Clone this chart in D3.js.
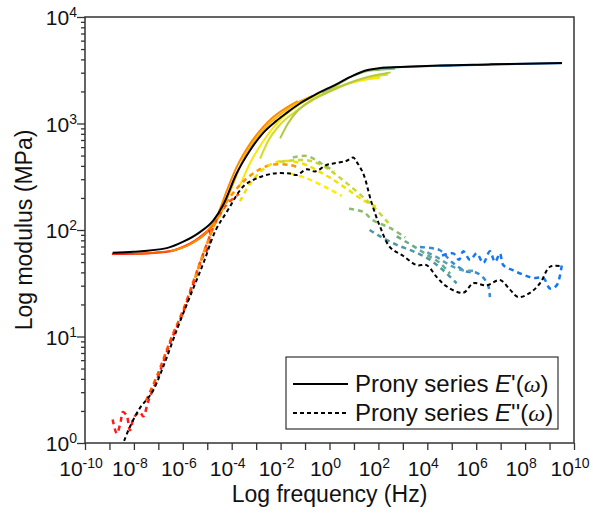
<!DOCTYPE html>
<html>
<head>
<meta charset="utf-8">
<script src="https://d3js.org/d3.v7.min.js"></script>
<style>
  body { margin: 0; background: #fff; }
  text { font-family: "Liberation Sans", Arial, sans-serif; fill: #111; }
  .frame { fill: none; stroke: #333; stroke-width: 1.5px; }
  .axis path { display: none; }
  .axis line { stroke: #333; stroke-width: 1.3px; }
</style>
</head>
<body>
<svg id="chart" width="593" height="513"></svg>
<script>
// values are [log10 frequency, log10 modulus]
const pronyStorage = [[-8.87,1.787],[-8.02,1.796],[-6.66,1.83],[-5.98,1.89],[-5.30,1.98],[-4.75,2.09],[-4.34,2.24],[-3.80,2.53],[-3.3,2.73],[-2.72,2.91],[-2.2,3.02],[-1.75,3.10],[-1.2,3.19],[-0.67,3.26],[0.29,3.37],[0.96,3.45],[1.52,3.50],[2.07,3.52],[2.88,3.53],[4.5,3.545],[6.5,3.555],[8,3.562],[9.51,3.568]];
const pronyLoss = [[-8.40,0.02],[-8.16,0.153],[-7.75,0.33],[-7.27,0.47],[-6.80,0.716],[-6.25,1.06],[-5.71,1.374],[-5.16,1.687],[-4.65,2.0],[-4.2,2.17],[-3.52,2.41],[-2.98,2.485],[-2.30,2.53],[-1.62,2.53],[-1.34,2.516],[-0.93,2.57],[-0.59,2.55],[-0.12,2.61],[0.29,2.63],[0.70,2.65],[0.97,2.68],[1.11,2.64],[1.38,2.53],[1.73,2.25],[2.07,2.03],[2.47,1.84],[3.02,1.756],[3.57,1.67],[3.97,1.67],[4.38,1.56],[4.79,1.47],[5.47,1.41],[5.88,1.50],[6.43,1.48],[6.97,1.53],[7.38,1.44],[7.72,1.37],[8.20,1.41],[8.61,1.50],[9.02,1.655],[9.50,1.66]];

// shifted test curves, storage modulus
const st1 = [[-8.9,1.775],[-7.5,1.78],[-6.5,1.80],[-6,1.84],[-5.5,1.90],[-5,1.99]];
const st2 = [[-8,1.775],[-7,1.79],[-6.2,1.82],[-5.6,1.88],[-5,1.98],[-4.6,2.10],[-4.2,2.30],[-3.8,2.53]];
const st3 = [[-6.5,1.80],[-5.6,1.88],[-5,1.99],[-4.6,2.13],[-4.2,2.37],[-3.8,2.59],[-3.25,2.81],[-2.7,2.97],[-2.3,3.06],[-1.6,3.17],[-1.3,3.21]];
const st4 = [[-4.5,2.12],[-4,2.40],[-3.5,2.68],[-3,2.86],[-2.5,2.99],[-1.8,3.12],[-1.2,3.21],[-0.7,3.26]];
const st5 = [[-3.66,2.42],[-3.2,2.65],[-2.57,2.88],[-2,3.04],[-1.48,3.14],[-0.6,3.26],[0.29,3.34],[1.2,3.40],[2.07,3.43]];
const st6 = [[-2.84,2.67],[-2.5,2.84],[-2.02,2.99],[-1.4,3.11],[-0.6,3.23],[0.3,3.33],[1.2,3.41],[2.4,3.46]];
const st7 = [[-2.02,2.86],[-1.7,3.0],[-1.34,3.11],[-0.8,3.21],[-0.1,3.29],[0.8,3.38],[1.6,3.44],[2.5,3.48]];
const st8 = [[-0.3,3.29],[0.3,3.36],[0.9,3.44],[1.5,3.49],[2.06,3.505],[2.68,3.515]];
const st9 = [[2,3.52],[3.5,3.535],[5,3.545]];
const st10 = [[4.5,3.542],[6.5,3.552],[8,3.56],[9.5,3.566]];

// shifted test curves, loss modulus
const ls1 = [[-8.87,0.22],[-8.70,0.09],[-8.54,0.20],[-8.46,0.29],[-8.30,0.26],[-8.16,0.12],[-8.0,0.24],[-7.75,0.29],[-7.62,0.25],[-7.4,0.40],[-7.0,0.63],[-6.5,0.95],[-6,1.22],[-5.5,1.54],[-5.2,1.74],[-5.0,1.82],[-4.85,1.93],[-4.95,2.02]];
const ls2 = [[-7.5,0.40],[-7,0.66],[-6.5,0.97],[-6,1.24],[-5.5,1.56],[-5,1.88],[-4.6,2.1],[-4.2,2.24],[-3.7,2.34]];
const ls3 = [[-5.5,1.55],[-5,1.88],[-4.5,2.15],[-4,2.33],[-3.5,2.46],[-3,2.55],[-2.43,2.61],[-1.62,2.61],[-1.2,2.58]];
const ls4 = [[-3.66,2.27],[-3.2,2.45],[-2.6,2.59],[-2.02,2.645],[-1.21,2.63],[-0.27,2.53],[0.56,2.41],[1.38,2.28],[1.9,2.22]];
const ls5 = [[-1.6,2.53],[-0.93,2.485],[0.02,2.38],[0.5,2.32]];
const ls6 = [[-2.02,2.64],[-0.93,2.655],[-0.25,2.60],[0.7,2.44],[1.79,2.22],[2.47,2.05]];
const ls7 = [[-1.5,2.68],[-0.93,2.695],[-0.3,2.62],[0.2,2.55]];
const ls8 = [[0.8,2.20],[1.38,2.17],[1.79,2.09],[2.47,2.02],[3.1,1.93]];
const ls9 = [[2.75,1.94],[3.2,1.88],[3.7,1.81],[4.1,1.75],[4.52,1.69],[4.93,1.59]];
const ls10 = [[1.64,2.0],[2.07,1.94],[2.75,1.86],[3.43,1.80],[4.11,1.72],[4.66,1.62],[5.2,1.50]];
const ls11 = [[3.7,1.84],[4.18,1.83],[4.52,1.81],[5.0,1.70],[5.61,1.61],[6.0,1.60],[6.3,1.55],[6.49,1.48],[6.56,1.37]];
const ls12 = [[4.6,1.76],[5.06,1.78],[5.3,1.72],[5.47,1.80],[5.75,1.72],[6.02,1.78],[6.29,1.69],[6.56,1.80],[6.77,1.70],[6.97,1.78],[7.11,1.67],[7.52,1.62],[7.93,1.58],[8.33,1.55],[8.74,1.55],[9.02,1.45],[9.29,1.48],[9.5,1.67]];
const ls13 = [[4.0,1.79],[4.5,1.73],[5.0,1.66],[5.5,1.62],[6.0,1.62]];

const storageSets = [st1, st2, st3, st4, st5, st6, st7, st8, st9, st10];
const storageColors = ["#ff2a1a", "#ff5a00", "#ff8a00", "#ffb400", "#ffe600", "#d6dc20", "#b4c840", "#8cbf6a", "#5aa0a0", "#2a80e0"];
const lossSets = [ls1, ls2, ls3, ls4, ls5, ls6, ls7, ls8, ls9, ls10, ls11, ls12, ls13];
const lossColors = ["#ff1a1a", "#ff5000", "#ff9400", "#f2e000", "#ffee00", "#c8d830", "#9cc460", "#88bc70", "#6aaa8a", "#4e96a8", "#3a8ad0", "#1677f5", "#5a9fb8"];

const xTickExp = d3.range(-10, 11, 1);
const xLabelExp = d3.range(-10, 11, 2);
const yTickExp = [0, 1, 2, 3, 4];
const legendLabels = ["E'", "E''"];

const svg = d3.select("#chart");
const margin = { top: 17, right: 19, bottom: 70, left: 85 };
const w = 593 - margin.left - margin.right;
const h = 513 - margin.top - margin.bottom;
const g = svg.append("g").attr("transform", "translate(" + margin.left + "," + margin.top + ")");

const x = d3.scaleLog().domain([1e-10, 1e10]).range([0, w]);
const y = d3.scaleLog().domain([1, 1e4]).range([h, 0]);

const line = d3.line()
  .x(d => x(Math.pow(10, d[0])))
  .y(d => y(Math.pow(10, d[1])))
  .curve(d3.curveMonotoneX);
const lineFree = d3.line()
  .x(d => x(Math.pow(10, d[0])))
  .y(d => y(Math.pow(10, d[1])))
  .curve(d3.curveCatmullRom);

// x axis
const xAxis = d3.axisBottom(x).tickValues(xTickExp.map(e => Math.pow(10, e))).tickSize(7).tickFormat("");
g.append("g").attr("class", "axis").attr("transform", "translate(0," + h + ")").call(xAxis);
g.selectAll("text.xlab").data(xLabelExp).join("text")
  .attr("class", "xlab")
  .attr("x", e => x(Math.pow(10, e)) - 4)
  .attr("y", h + 33)
  .attr("text-anchor", "middle")
  .attr("font-size", 21)
  .each(function (e) {
    const t = d3.select(this);
    t.append("tspan").text("10");
    t.append("tspan").attr("dy", -8).attr("font-size", 14).text(e);
  });

// y axis: majors + minors
const yMinor = [];
yTickExp.slice(0, -1).forEach(e => { for (let k = 2; k < 10; k++) yMinor.push(k * Math.pow(10, e)); });
g.append("g").attr("class", "axis")
  .call(d3.axisLeft(y).tickValues(yTickExp.map(e => Math.pow(10, e))).tickSize(8).tickFormat(""));
g.append("g").attr("class", "axis")
  .call(d3.axisLeft(y).tickValues(yMinor).tickSize(4).tickFormat(""));
g.selectAll("text.ylab").data(yTickExp).join("text")
  .attr("class", "ylab")
  .attr("x", -8)
  .attr("y", e => y(Math.pow(10, e)) + 8)
  .attr("text-anchor", "end")
  .attr("font-size", 21)
  .each(function (e) {
    const t = d3.select(this);
    t.append("tspan").text("10");
    t.append("tspan").attr("dy", -8).attr("font-size", 14).text(e);
  });

// test curves
g.selectAll("path.st").data(storageSets).join("path")
  .attr("class", "st")
  .attr("d", line)
  .attr("fill", "none")
  .attr("stroke", (d, i) => storageColors[i])
  .attr("stroke-width", 2);

g.selectAll("path.ls").data(lossSets).join("path")
  .attr("class", "ls")
  .attr("d", lineFree)
  .attr("fill", "none")
  .attr("stroke", (d, i) => lossColors[i])
  .attr("stroke-width", 2.5)
  .attr("stroke-dasharray", "5,4");

// prony fits
g.append("path").datum(pronyStorage)
  .attr("d", line).attr("fill", "none").attr("stroke", "#000").attr("stroke-width", 2);
g.append("path").datum(pronyLoss)
  .attr("d", lineFree).attr("fill", "none").attr("stroke", "#000").attr("stroke-width", 2)
  .attr("stroke-dasharray", "4,3");

g.append("rect").attr("class", "frame").attr("width", w).attr("height", h);

// axis titles
svg.append("text")
  .attr("x", margin.left + w / 2)
  .attr("y", 502)
  .attr("text-anchor", "middle")
  .attr("font-size", 23)
  .text("Log frequency (Hz)");
svg.append("text")
  .attr("transform", "translate(32," + (margin.top + h / 2) + ") rotate(-90)")
  .attr("text-anchor", "middle")
  .attr("font-size", 23)
  .text("Log modulus (MPa)");

// legend
const leg = svg.append("g").attr("transform", "translate(286,357)");
leg.append("rect").attr("width", 272).attr("height", 72)
  .attr("fill", "#fff").attr("stroke", "#333").attr("stroke-width", 1.2);
legendLabels.forEach((lab, i) => {
  const yy = 27 + i * 29;
  leg.append("line").attr("x1", 7).attr("x2", 62).attr("y1", yy).attr("y2", yy)
    .attr("stroke", "#000").attr("stroke-width", 2)
    .attr("stroke-dasharray", i === 0 ? null : "4,3");
  const t = leg.append("text").attr("x", 69).attr("y", yy + 8).attr("font-size", 24);
  t.append("tspan").text("Prony series ");
  t.append("tspan").attr("font-style", "italic").text(lab.slice(0, 1));
  t.append("tspan").text(lab.slice(1) + "(");
  t.append("tspan").attr("font-family", "'Liberation Serif', serif").attr("font-style", "italic").text("ω");
  t.append("tspan").text(")");
});
</script>
</body>
</html>
